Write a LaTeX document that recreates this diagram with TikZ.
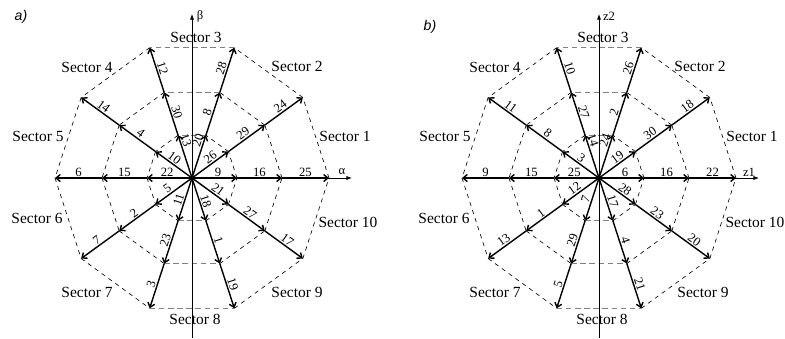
\documentclass[tikz,border=0pt]{standalone}
\usepackage{fontspec}
\setmainfont{Liberation Serif}
\setsansfont{Liberation Sans}
\usetikzlibrary{arrows.meta}

\begin{document}
\begin{tikzpicture}[
          x=0.025cm, y=0.025cm,
          vec/.style={line width=1pt, -{Straight Barb[length=3pt,width=5pt]}},
          poly/.style={dashed, line width=0.45pt},
          hpoly/.style={gray, line width=0.7pt, dash pattern=on 4pt off 2.5pt},
          axis/.style={line width=0.6pt, -{Latex[length=4pt,width=3pt]}},
          num/.style={font=\fontsize{9}{9}\selectfont, inner sep=0.8pt},
          sect/.style={font=\fontsize{11}{11}\selectfont, inner sep=0pt},
          tag/.style={font=\sffamily\itshape\fontsize{10}{10}\selectfont, inner sep=0pt}
        ]
          \useasboundingbox (-192,-160) rectangle (593,178);

          % a) alpha-beta plane
          \begin{scope}[name prefix=a-]
            \coordinate (o) at (0,0);
            \coordinate (xe) at (160,0);
            \coordinate (yb) at (0,-160);
            \coordinate (ye) at (0,164);
            \foreach \k in {0,...,9} {
              \coordinate (p\k-1) at (36*\k:45);
              \coordinate (p\k-2) at (36*\k:90);
              \coordinate (p\k-3) at (36*\k:137);
            }
            \foreach \k/\n/\st in {0/1/poly,1/2/poly,2/3/hpoly,3/4/poly,4/5/poly,
                                   5/6/poly,6/7/poly,7/8/hpoly,8/9/poly,9/0/poly}
              \foreach \r in {1,2,3}
                \draw[\st] (p\k-\r) -- (p\n-\r);
            \draw[axis] (yb) -- (ye);
            \draw[axis] (o) -- (xe);
            \node[num] (xl) at (150,6) {α};
            \node[num] (yl) at (8,162) {β};
            \foreach \k/\pa/\la/\lb/\lc in {0/0.58/9/16/25, 1/0.6/26/29/24, 2/0.84/20/8/28,
                                            3/0.84/13/30/12, 4/0.58/10/4/14, 5/0.55/22/15/6,
                                            6/0.58/5/2/7, 7/0.55/11/23/3, 8/0.58/18/1/19,
                                            9/0.62/21/27/17} {
              \draw[vec] (o) -- (p\k-1) node[num, pos=\pa, sloped, above] (n\k-1) {\la};
              \draw[vec] (p\k-1) -- (p\k-2) node[num, midway, sloped, above] (n\k-2) {\lb};
              \draw[vec] (p\k-2) -- (p\k-3) node[num, midway, sloped, above] (n\k-3) {\lc};
            }
            \foreach \s/\x/\y in {1/153/42, 2/105/112, 3/4/141, 4/-105/111, 5/-154/42,
                                  6/-155/-40, 7/-105/-114, 8/3/-141, 9/105/-114, 10/156/-44}
              \node[sect] (s\s) at (\x,\y) {Sector \s};
            \node[tag] (tag) at (-171,161) {a)};
          \end{scope}

          % b) z1-z2 plane
          \begin{scope}[shift={(407,0)}, name prefix=b-]
            \coordinate (o) at (0,0);
            \coordinate (xe) at (160,0);
            \coordinate (yb) at (0,-160);
            \coordinate (ye) at (0,164);
            \foreach \k in {0,...,9} {
              \coordinate (p\k-1) at (36*\k:45);
              \coordinate (p\k-2) at (36*\k:90);
              \coordinate (p\k-3) at (36*\k:137);
            }
            \foreach \k/\n/\st in {0/1/poly,1/2/poly,2/3/hpoly,3/4/poly,4/5/poly,
                                   5/6/poly,6/7/poly,7/8/hpoly,8/9/poly,9/0/poly}
              \foreach \r in {1,2,3}
                \draw[\st] (p\k-\r) -- (p\n-\r);
            \draw[axis] (yb) -- (ye);
            \draw[axis] (o) -- (xe);
            \node[num] (xl) at (150,6) {z1};
            \node[num] (yl) at (10,162) {z2};
            \foreach \k/\pa/\la/\lb/\lc in {0/0.58/6/16/22, 1/0.6/19/30/18, 2/0.84/24/2/26,
                                            3/0.84/14/27/10, 4/0.58/3/8/11, 5/0.55/25/15/9,
                                            6/0.58/12/1/13, 7/0.55/7/29/5, 8/0.58/17/4/21,
                                            9/0.62/28/23/20} {
              \draw[vec] (o) -- (p\k-1) node[num, pos=\pa, sloped, above] (n\k-1) {\la};
              \draw[vec] (p\k-1) -- (p\k-2) node[num, midway, sloped, above] (n\k-2) {\lb};
              \draw[vec] (p\k-2) -- (p\k-3) node[num, midway, sloped, above] (n\k-3) {\lc};
            }
            \foreach \s/\x/\y in {1/153/42, 2/101/112, 3/4/141, 4/-104/111, 5/-154/42,
                                  6/-155/-40, 7/-104/-114, 8/3/-141, 9/104/-114, 10/156/-44}
              \node[sect] (s\s) at (\x,\y) {Sector \s};
            \node[tag] (tag) at (-169,151) {b)};
          \end{scope}
        \end{tikzpicture}
\end{document}
